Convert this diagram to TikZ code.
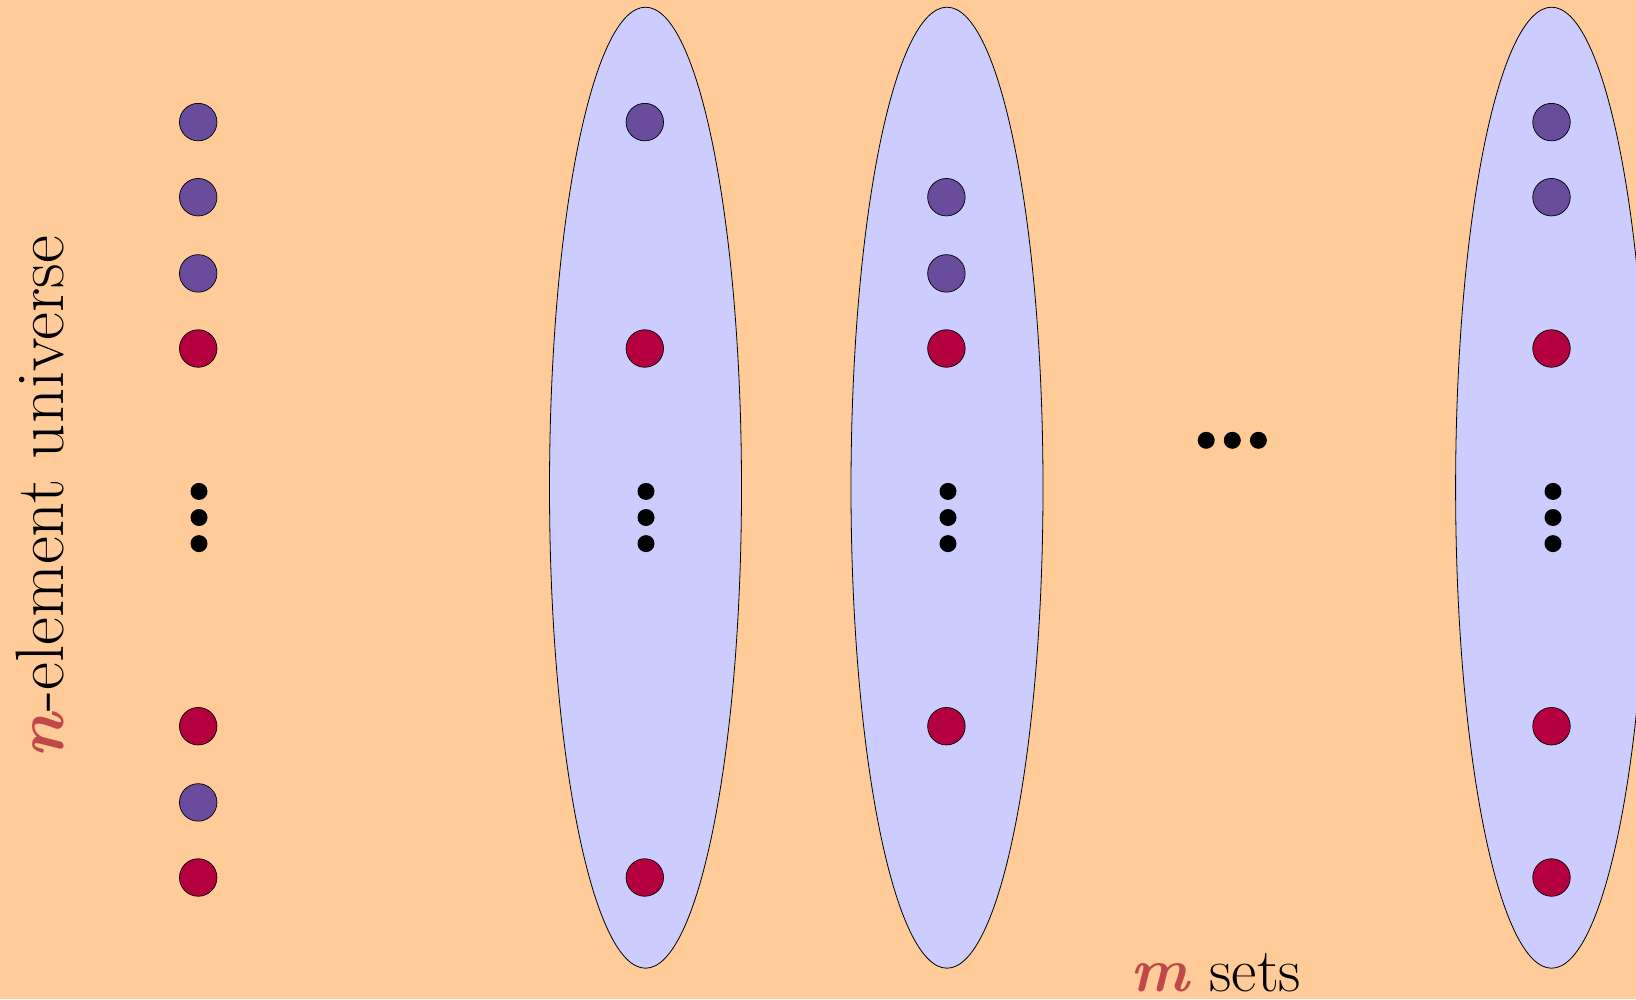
\documentclass[tikz,border=0pt]{standalone}
\usetikzlibrary{shapes.geometric}
\definecolor{bg}{HTML}{FFCC99}
\definecolor{setfill}{HTML}{CCCCFF}
\definecolor{purp}{HTML}{6A4C9C}
\definecolor{redel}{HTML}{B5003F}
\definecolor{lbl}{HTML}{C04848}
\begin{document}
\begin{tikzpicture}[x=1pt,y=-1pt,
  setell/.style={draw=black,fill=setfill,ellipse,minimum width=192pt,minimum height=961pt,inner sep=0pt,line width=0.8pt},
  pel/.style={circle,draw=black,fill=purp,minimum size=37.5pt,inner sep=0pt,line width=0.7pt},
  rel/.style={circle,draw=black,fill=redel,minimum size=37.5pt,inner sep=0pt,line width=0.7pt},
  bdot/.style={circle,fill=black,minimum size=17pt,inner sep=0pt}]
\fill[bg] (0,0) rectangle (1636,999);
\useasboundingbox (0,0) rectangle (1636,999);
% sets
\node[setell] (s1) at (645.5,487.7) {};
\node[setell] (s2) at (947,487.7) {};
\node[setell] (s3) at (1551.6,487.7) {};
% universe column
\node[pel] (u1) at (198.2,122.1) {};
\node[pel] (u2) at (198.2,197.2) {};
\node[pel] (u3) at (198.2,273.4) {};
\node[rel] (u4) at (198.2,348.5) {};
\node[rel] (u5) at (198.2,726.2) {};
\node[pel] (u6) at (198.2,802.4) {};
\node[rel] (u7) at (198.2,877.5) {};
\node[bdot] (ud1) at (199,491.4) {};
\node[bdot] (ud2) at (199,517.5) {};
\node[bdot] (ud3) at (199,543.6) {};
% set 1
\node[pel] (a1) at (644.8,122.1) {};
\node[rel] (a4) at (644.8,348.5) {};
\node[rel] (a7) at (644.8,877.5) {};
\node[bdot] (ad1) at (646,491.4) {};
\node[bdot] (ad2) at (646,517.5) {};
\node[bdot] (ad3) at (646,543.6) {};
% set 2
\node[pel] (b2) at (946.4,197.2) {};
\node[pel] (b3) at (946.4,273.4) {};
\node[rel] (b4) at (946.4,348.5) {};
\node[rel] (b5) at (946.4,726.2) {};
\node[bdot] (bd1) at (948,491.4) {};
\node[bdot] (bd2) at (948,517.5) {};
\node[bdot] (bd3) at (948,543.6) {};
% set m
\node[pel] (c1) at (1551.5,122.1) {};
\node[pel] (c2) at (1551.5,197.2) {};
\node[rel] (c4) at (1551.5,348.5) {};
\node[rel] (c5) at (1551.5,726.2) {};
\node[rel] (c7) at (1551.5,877.5) {};
\node[bdot] (cd1) at (1553,491.4) {};
\node[bdot] (cd2) at (1553,517.5) {};
\node[bdot] (cd3) at (1553,543.6) {};
% horizontal dots
\node[bdot] (h1) at (1206.2,440.3) {};
\node[bdot] (h2) at (1232.3,440.3) {};
\node[bdot] (h3) at (1258.4,440.3) {};
% labels
\node[rotate=90,anchor=base,inner sep=0pt] (nlab) at (63,497) {\fontsize{68.5}{76}\selectfont\textcolor{lbl}{\textbf{\textit{n}}}-element universe};
\node[anchor=base west,inner sep=0pt] (mlab) at (1130,991) {\fontsize{62}{70}\selectfont\textcolor{lbl}{\textbf{\textit{m}}} sets};
\end{tikzpicture}
\end{document}
